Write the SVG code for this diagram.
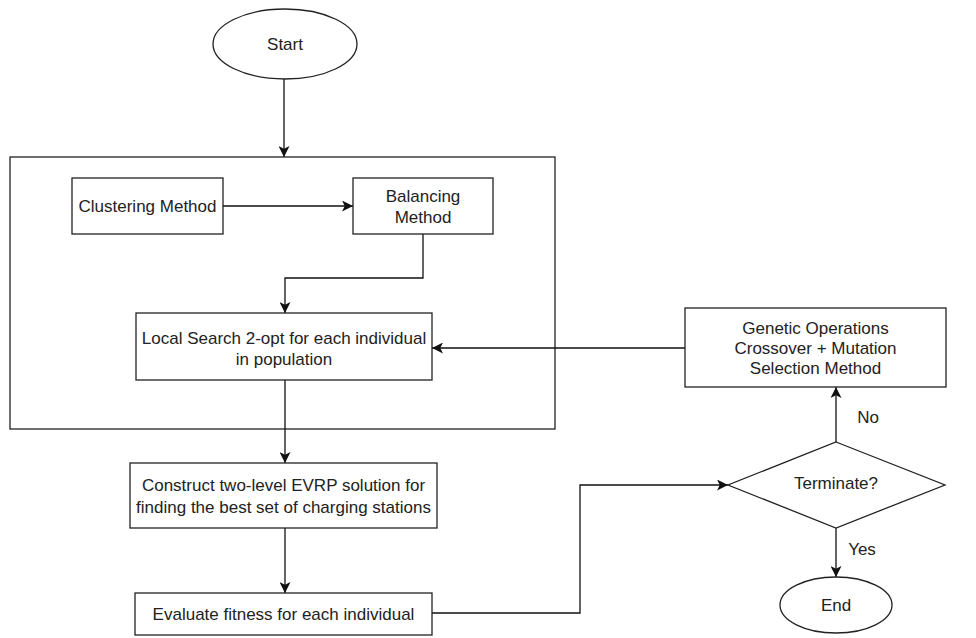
<svg xmlns="http://www.w3.org/2000/svg" width="976" height="638" viewBox="0 0 976 638">
  <defs>
    <marker id="arrow" viewBox="0 0 10 10" refX="10" refY="5" markerWidth="11" markerHeight="11" markerUnits="userSpaceOnUse" orient="auto">
      <path d="M0,0 L10,5 L0,10 L2.5,5 Z" fill="#111"/>
    </marker>
  </defs>
  <style>
    .shape { fill: #fff; stroke: #222; stroke-width: 1.3; }
    .frame { fill: none; stroke: #222; stroke-width: 1.3; }
    .edge { fill: none; stroke: #111; stroke-width: 1.3; marker-end: url(#arrow); }
    text { font-family: "Liberation Sans", Arial, sans-serif; font-size: 17px; fill: #222; text-anchor: middle; dominant-baseline: central; }
  </style>
  <rect width="976" height="638" fill="#fff"/>

  <g id="container">
    <rect class="frame" x="10" y="157" width="545" height="272"/>
  </g>

  <g id="connectors">
    <path class="edge" d="M284,79 L284,157"/>
    <path class="edge" d="M223,206 L353,206"/>
    <path class="edge" d="M423,234 L423,278 L285,278 L285,313"/>
    <path class="edge" d="M285,380 L285,463"/>
    <path class="edge" d="M285,528 L285,593"/>
    <path class="edge" d="M432,613 L580,613 L580,485 L728,485"/>
    <path class="edge" d="M836,442 L836,387"/>
    <path class="edge" d="M685,348 L432,348"/>
    <path class="edge" d="M836,528 L836,577"/>
    <text x="868" y="417">No</text>
    <text x="862" y="549">Yes</text>
  </g>

  <g id="start">
    <ellipse class="shape" cx="285" cy="44" rx="72" ry="35"/>
    <text x="285" y="44">Start</text>
  </g>

  <g id="clustering">
    <rect class="shape" x="72" y="178" width="151" height="56"/>
    <text x="147.5" y="206">Clustering Method</text>
  </g>

  <g id="balancing">
    <rect class="shape" x="353" y="178" width="140" height="56"/>
    <text x="423" y="196">Balancing</text>
    <text x="423" y="217">Method</text>
  </g>

  <g id="local-search">
    <rect class="shape" x="136" y="313" width="296" height="67"/>
    <text x="284" y="338">Local Search 2-opt for each individual</text>
    <text x="284" y="359">in population</text>
  </g>

  <g id="construct">
    <rect class="shape" x="130" y="463" width="307" height="65"/>
    <text x="283.5" y="485">Construct two-level EVRP solution for</text>
    <text x="283.5" y="507">finding the best set of charging stations</text>
  </g>

  <g id="evaluate">
    <rect class="shape" x="135" y="593" width="297" height="42"/>
    <text x="283.5" y="614">Evaluate fitness for each individual</text>
  </g>

  <g id="genetic">
    <rect class="shape" x="685" y="308" width="261" height="79"/>
    <text x="815.5" y="328">Genetic Operations</text>
    <text x="815.5" y="348">Crossover + Mutation</text>
    <text x="815.5" y="368">Selection Method</text>
  </g>

  <g id="terminate">
    <polygon class="shape" points="836,442 945,485 836,528 728,485"/>
    <text x="836" y="483">Terminate?</text>
  </g>

  <g id="end">
    <ellipse class="shape" cx="836" cy="605" rx="56" ry="28"/>
    <text x="836" y="605">End</text>
  </g>
</svg>
